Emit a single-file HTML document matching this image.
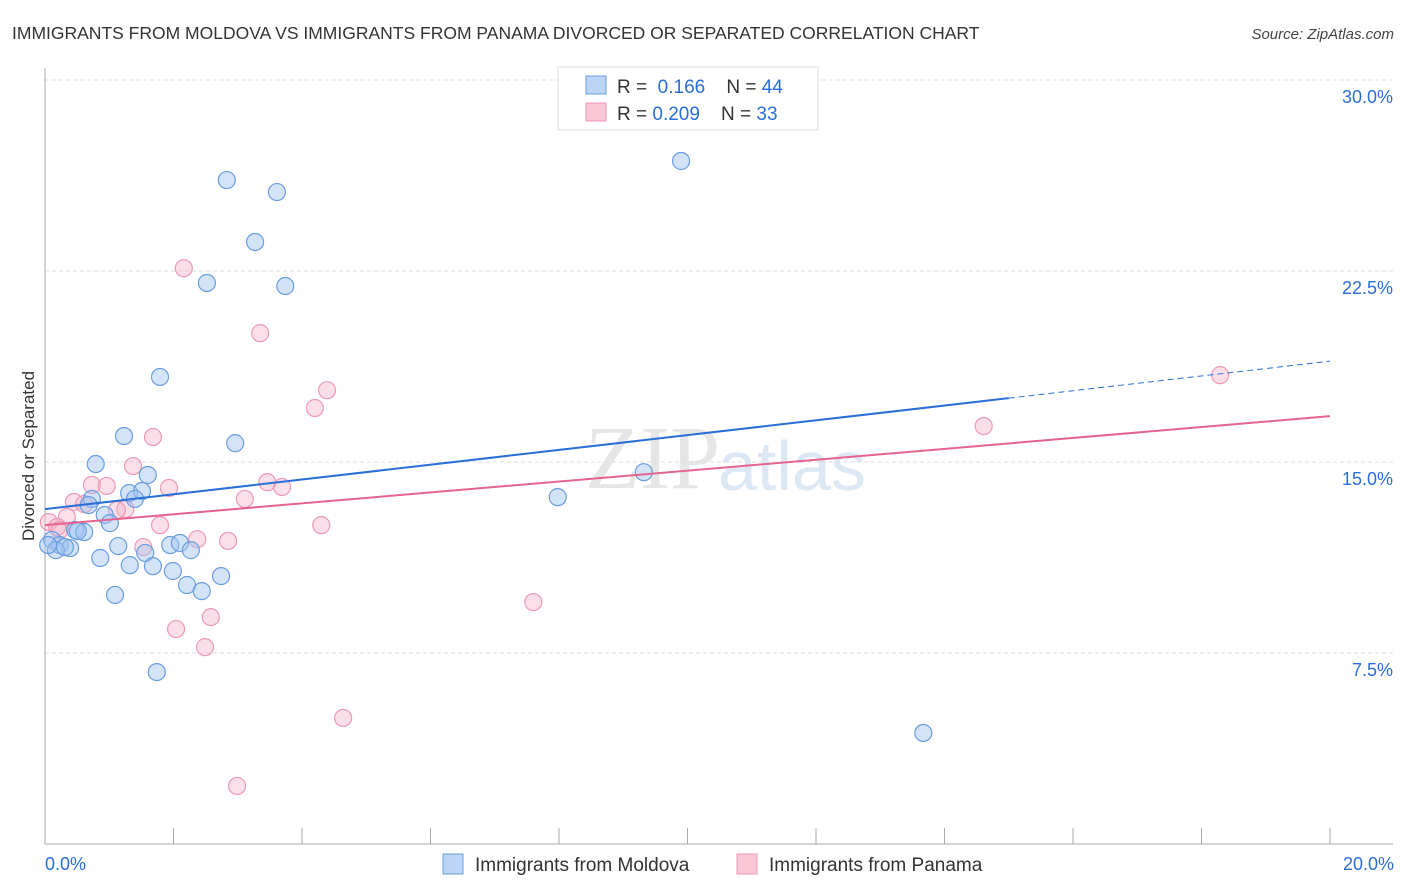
<!DOCTYPE html>
<html><head><meta charset="utf-8"><style>
body{margin:0;background:#fff;font-family:"Liberation Sans",sans-serif;}
svg{display:block}
</style></head><body>
<svg width="1406" height="892" id="chart">
<text x="12" y="39" font-size="17.5" fill="#333">IMMIGRANTS FROM MOLDOVA VS IMMIGRANTS FROM PANAMA DIVORCED OR SEPARATED CORRELATION CHART</text>
<text x="1394" y="39" font-size="15" fill="#444" font-style="italic" text-anchor="end">Source: ZipAtlas.com</text>
<text x="720" y="488" font-size="90" fill="#e6e6e6" text-anchor="end" font-family="Liberation Serif">ZIP</text>
<text x="718" y="490" font-size="70" fill="#dde8f5">atlas</text>
<text transform="translate(34,456) rotate(-90)" font-size="17" fill="#333" text-anchor="middle">Divorced or Separated</text>
<g id="grid"></g><g id="marks"></g>
<g>
<rect x="558" y="67" width="260" height="63" fill="#fff" stroke="#ddd"/>
<rect x="586" y="76" width="20" height="18" fill="#bcd4f5" stroke="#6a9de0"/>
<text x="617" y="93" font-size="19" fill="#333">R = <tspan fill="#2a6fd6">&#160;0.166</tspan>&#160;&#160;&#160; N = <tspan fill="#2a6fd6">44</tspan></text>
<rect x="586" y="103" width="20" height="18" fill="#f8c6d4" stroke="#eb9ab5"/>
<text x="617" y="120" font-size="19" fill="#333">R = <tspan fill="#2a6fd6">0.209</tspan>&#160;&#160;&#160; N = <tspan fill="#2a6fd6">33</tspan></text>
</g>
<g>
<rect x="443" y="854" width="20" height="20" fill="#bcd4f5" stroke="#6a9de0"/>
<text x="475" y="871" font-size="19" fill="#333">Immigrants from Moldova</text>
<rect x="737" y="854" width="20" height="20" fill="#f8c6d4" stroke="#eb9ab5"/>
<text x="769" y="871" font-size="19" fill="#333">Immigrants from Panama</text>
</g>
<text x="45" y="870" font-size="18" fill="#2a6fd6">0.0%</text>
<text x="1394" y="870" font-size="18" fill="#2a6fd6" text-anchor="end">20.0%</text>
</svg>
<script>
const yTicks=[7.5,15,22.5,30];
const yTickLabels=["7.5%","15.0%","22.5%","30.0%"];
const xTicks=[0,2,4,6,8,10,12,14,16,18,20];
const moldovaX=[2.83,3.61,9.90,3.27,2.52,3.74,1.79,1.23,2.96,0.79,1.60,9.32,7.98,1.31,1.51,0.73,1.40,0.68,0.93,1.01,0.47,0.61,0.11,0.23,0.39,0.17,0.05,1.14,0.86,1.32,1.56,1.68,1.95,2.10,2.27,1.99,2.21,2.44,2.74,1.09,1.74,13.67,0.31,0.51];
const moldovaY=[26.07,25.60,26.82,23.64,22.03,21.91,18.34,16.02,15.74,14.92,14.49,14.60,13.62,13.78,13.86,13.55,13.55,13.31,12.92,12.60,12.33,12.25,11.94,11.74,11.62,11.54,11.74,11.70,11.23,10.95,11.43,10.91,11.74,11.82,11.54,10.72,10.17,9.93,10.52,9.78,6.75,4.36,11.66,12.29];
const panamaX=[2.16,3.35,4.39,4.20,14.61,18.29,1.68,1.37,0.73,0.96,1.93,3.46,3.69,3.11,0.45,0.61,1.25,1.12,0.34,0.06,0.19,1.79,4.30,2.37,2.85,1.53,7.60,2.04,2.58,2.49,4.64,2.99,0.23];
const panamaY=[22.61,20.06,17.82,17.12,16.41,18.41,15.98,14.84,14.10,14.06,13.98,14.21,14.02,13.55,13.43,13.35,13.15,13.11,12.84,12.64,12.45,12.52,12.52,11.97,11.90,11.66,9.50,8.44,8.91,7.73,4.95,2.28,12.33];
const moldovaTrend=[13.15,18.96];
const panamaTrend=[12.52,16.80];
const moldovaSolidEnd=15;

const NS="http://www.w3.org/2000/svg";
const X0=45,X1=1330,Y0=844,Y30=80;
const xs=v=>X0+v*(X1-X0)/20;
const ys=v=>Y0-v*(Y0-Y30)/30;
function mk(tag,attrs,parent){const e=document.createElementNS(NS,tag);for(const k in attrs)e.setAttribute(k,attrs[k]);parent.appendChild(e);return e;}
const grid=document.getElementById('grid'),marks=document.getElementById('marks');
yTicks.forEach((t,i)=>{
 const l=mk('line',{x1:X0,x2:1393,y1:ys(t),y2:ys(t),stroke:'#ddd','stroke-dasharray':'4,3'},grid);
 
 
 const tx=mk('text',{x:1393,y:ys(t)+23,'font-size':18,fill:'#2a6fd6','text-anchor':'end'},grid);
 tx.textContent=yTickLabels[i];
 
 
});
const ya=mk('line',{x1:X0,x2:X0,y1:68,y2:Y0,stroke:'#aaa'},grid);


const xa=mk('line',{x1:X0,x2:1393,y1:Y0,y2:Y0,stroke:'#aaa'},grid);


xTicks.forEach(t=>{
 const l=mk('line',{x1:xs(t),x2:xs(t),y1:828,y2:Y0,stroke:'#aaa'},grid);
 
 
});
function pts(X,Y,fill,stroke,name){X.forEach((x,i)=>{
 const c=mk('circle',{cx:xs(x),cy:ys(Y[i]),r:8.5,fill:fill,stroke:stroke,'stroke-width':1.2},marks);
 
 
});}
pts(panamaX,panamaY,'rgba(245,175,198,0.4)','#eb9ab5','panama-point');
pts(moldovaX,moldovaY,'rgba(160,195,240,0.45)','#6a9de0','moldova-point');
const lerp=(tr,x)=>tr[0]+(tr[1]-tr[0])*x/20;
let l1=mk('line',{x1:xs(0),y1:ys(lerp(moldovaTrend,0)),x2:xs(moldovaSolidEnd),y2:ys(lerp(moldovaTrend,moldovaSolidEnd)),stroke:'#2a6fd6','stroke-width':2},marks);


let l2=mk('line',{x1:xs(moldovaSolidEnd),y1:ys(lerp(moldovaTrend,moldovaSolidEnd)),x2:xs(20),y2:ys(lerp(moldovaTrend,20)),stroke:'#2a6fd6','stroke-width':1,'stroke-dasharray':'6,4'},marks);


let l3=mk('line',{x1:xs(0),y1:ys(lerp(panamaTrend,0)),x2:xs(20),y2:ys(lerp(panamaTrend,20)),stroke:'#e5648f','stroke-width':2},marks);


</script>
</body></html>
